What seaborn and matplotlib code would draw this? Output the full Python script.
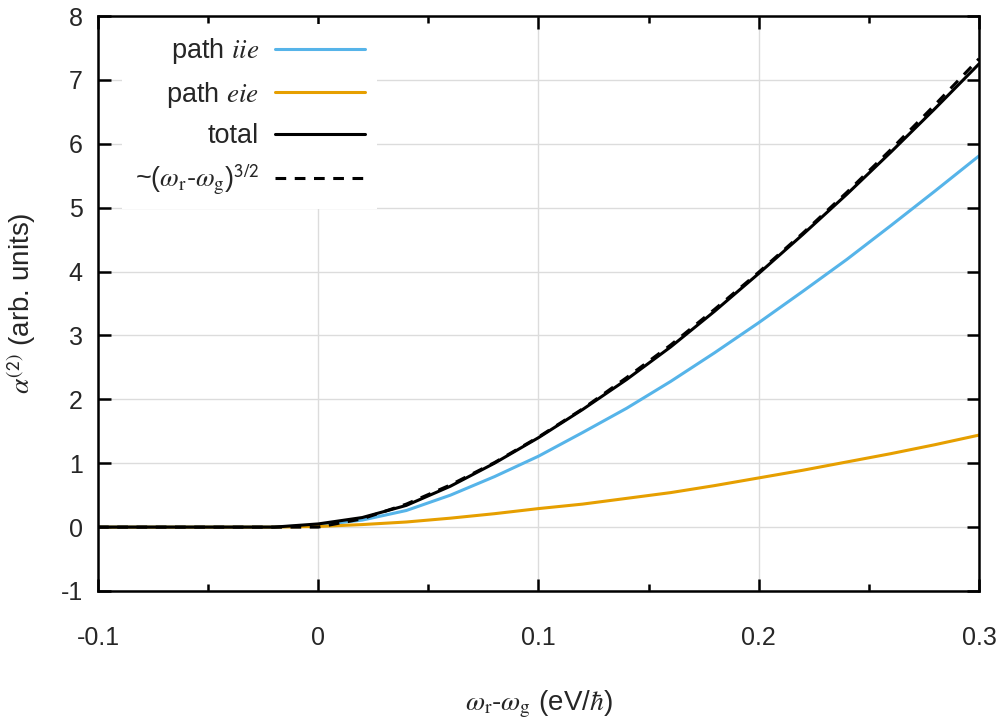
import numpy as np
import pandas as pd
import matplotlib
matplotlib.use("Agg")
import matplotlib.pyplot as plt
import seaborn as sns
from matplotlib.ticker import MultipleLocator

# photon energy detuning (eV/hbar)
x_vals = [-0.10, -0.08, -0.06, -0.04, -0.02, 0.00, 0.02, 0.04, 0.06, 0.08, 0.10,
          0.12, 0.14, 0.16, 0.18, 0.20, 0.22, 0.24, 0.26, 0.28, 0.30]

# values
iie_vals = [0.0, 0.0, 0.0, 0.0, 0.0, 0.03, 0.11, 0.26, 0.50, 0.79, 1.11,
            1.48, 1.86, 2.28, 2.73, 3.20, 3.69, 4.19, 4.72, 5.26, 5.81]
eie_vals = [0.0, 0.0, 0.0, 0.0, 0.0, 0.01, 0.04, 0.08, 0.14, 0.21, 0.29,
            0.36, 0.45, 0.54, 0.65, 0.77, 0.89, 1.02, 1.15, 1.29, 1.44]
total_vals = [0.0, 0.0, 0.0, 0.0, 0.0, 0.05, 0.15, 0.34, 0.64, 1.00, 1.40,
              1.84, 2.31, 2.82, 3.38, 3.97, 4.58, 5.21, 5.87, 6.55, 7.25]
fit_vals = [0.0, 0.0, 0.0, 0.0, 0.0, 0.0, 0.13, 0.36, 0.66, 1.01, 1.41,
            1.85, 2.34, 2.85, 3.41, 3.99, 4.60, 5.24, 5.91, 6.61, 7.33]

x_ticks = [-0.1, 0, 0.1, 0.2, 0.3]
x_ticklabels = ["-0.1", "0", "0.1", "0.2", "0.3"]
y_ticks = [-1, 0, 1, 2, 3, 4, 5, 6, 7, 8]
y_ticklabels = ["-1", "0", "1", "2", "3", "4", "5", "6", "7", "8"]

labels = ["path $iie$", "path $eie$", "total",
          r"~($\omega_\mathrm{r}$-$\omega_\mathrm{g}$)$^{\mathsf{3/2}}$"]
colors = ["#56B4E9", "#E69F00", "black", "black"]

df = pd.DataFrame({"x": x_vals, "iie": iie_vals, "eie": eie_vals,
                   "total": total_vals, "fit": fit_vals})

sns.set_style("ticks")
plt.rcParams["font.family"] = ["Liberation Sans", "DejaVu Sans"]
plt.rcParams["mathtext.fontset"] = "stix"

fig = plt.figure(figsize=(10.03, 7.23), dpi=100)
ax = fig.add_axes([98 / 1003, 1 - 591 / 723, 881 / 1003, 575 / 723])

lw = 2.2
sns.lineplot(data=df, x="x", y="iie", color=colors[0], lw=lw, label=labels[0], ax=ax)
sns.lineplot(data=df, x="x", y="eie", color=colors[1], lw=lw, label=labels[1], ax=ax)
sns.lineplot(data=df, x="x", y="total", color=colors[2], lw=lw, label=labels[2], ax=ax)
sns.lineplot(data=df, x="x", y="fit", color=colors[3], lw=lw, label=labels[3], ax=ax,
             linestyle=(0, (3.5, 2.8)))

ax.set_xlim(-0.1, 0.3)
ax.set_ylim(-1, 8)
ax.set_xticks(x_ticks)
ax.set_xticklabels(x_ticklabels)
ax.xaxis.set_minor_locator(MultipleLocator(0.05))
ax.set_yticks(y_ticks)
ax.set_yticklabels(y_ticklabels)

ax.grid(True, which="major", color="#dcdcdc", lw=1)
ax.set_axisbelow(True)
for s in ax.spines.values():
    s.set_visible(True)
    s.set_linewidth(1.8)
    s.set_color("black")

ax.tick_params(which="both", direction="in", top=True, right=True,
               labelsize=18, width=1.8, color="black")
ax.tick_params(axis="x", which="major", length=9, pad=25)
ax.tick_params(axis="x", which="minor", length=5)
ax.tick_params(axis="y", which="major", length=9, pad=11)

ax.set_xlabel(r"$\omega_\mathrm{r}$-$\omega_\mathrm{g}$ (eV/$\hbar$)", fontsize=20, labelpad=28)
ax.set_ylabel(r"$\alpha^{\mathsf{(2)}}$ (arb. units)", fontsize=20, labelpad=16)

# legend sits just below the top spine, texts right-aligned before the handles
leg = ax.legend(loc="upper right", bbox_to_anchor=((377 - 98) / 881, 1 - 8 / 575),
                markerfirst=False, fontsize=19.5, frameon=True, fancybox=False,
                edgecolor="none", facecolor="white", framealpha=1,
                borderaxespad=0, borderpad=0.45, handlelength=3.3,
                handletextpad=0.6, labelspacing=0.5)

fig.savefig("out.png", dpi=100)
